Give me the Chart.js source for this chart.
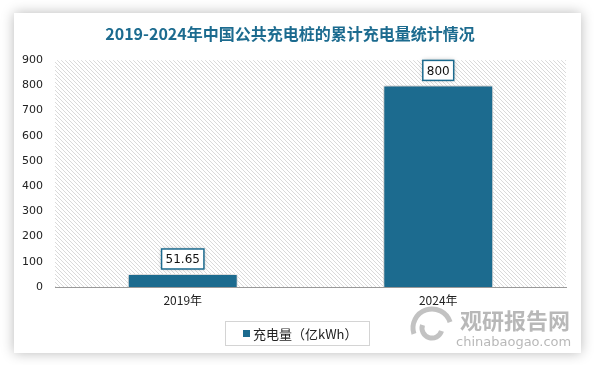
<!DOCTYPE html>
<html>
<head>
<meta charset="utf-8">
<script src="https://cdn.jsdelivr.net/npm/chart.js@4.4.0/dist/chart.umd.min.js"></script>
<style>
  html, body { margin: 0; padding: 0; background: #fff; }
  #card {
    position: absolute; left: 14px; top: 13px; width: 567px; height: 340px;
    background: #fff; box-shadow: 0 0 12px rgba(0,0,0,0.28);
  }
  #card canvas { display: block; }
</style>
</head>
<body>
<div id="card"><canvas id="chart" width="567" height="340"></canvas></div>
<script>
// chart data
const years = ['2019年', '2024年'];
const chargeVolume = [51.65, 800];
const seriesName = '充电量（亿kWh）';
const chartTitle = '2019-2024年中国公共充电桩的累计充电量统计情况';
const yTicks = [0, 100, 200, 300, 400, 500, 600, 700, 800, 900];

const mainColor = '#1c6b8f';
const darkText = '#222';

// diagonal hatch for the plot background
function makeHatch() {
  let c = document.createElement('canvas');
  c.width = 4; c.height = 4;
  let g = c.getContext('2d');
  g.fillStyle = '#fff';
  g.fillRect(0, 0, 4, 4);
  g.fillStyle = '#dadada';
  for (let i = 0; i < 4; i++) g.fillRect(i, i, 1, 1);
  return g.createPattern(c, 'repeat');
}

const backdrop = {
  id: 'backdrop',
  beforeDraw(chart) {
    const a = chart.chartArea;
    const ctx = chart.ctx;
    ctx.save();
    ctx.fillStyle = makeHatch();
    ctx.fillRect(a.left, a.top, a.right - a.left, a.bottom - a.top);
    ctx.restore();
  },
  beforeDatasetsDraw(chart) {
    const ctx = chart.ctx;
    ctx.save();
    ctx.shadowColor = 'rgba(0,0,0,0.35)';
    ctx.shadowBlur = 6;
  },
  afterDatasetsDraw(chart) {
    chart.ctx.restore();
  }
};

// boxed value labels over the bars
const valueBoxes = {
  id: 'valueBoxes',
  afterDatasetsDraw(chart) {
    const ctx = chart.ctx;
    const meta = chart.getDatasetMeta(0);
    ctx.save();
    ctx.font = '12px "DejaVu Sans"';
    ctx.textAlign = 'center';
    ctx.textBaseline = 'middle';
    meta.data.forEach((bar, i) => {
      const txt = String(chart.data.datasets[0].data[i]);
      const w = ctx.measureText(txt).width + 8;
      const h = 20;
      const x = bar.x - w / 2;
      const y = bar.y - 5 - h;
      ctx.shadowColor = 'rgba(0,0,0,0.3)';
      ctx.shadowBlur = 5;
      ctx.fillStyle = '#fff';
      ctx.fillRect(x, y, w, h);
      ctx.shadowColor = 'transparent';
      ctx.strokeStyle = mainColor;
      ctx.lineWidth = 1.5;
      ctx.strokeRect(x, y, w, h);
      ctx.fillStyle = '#111';
      ctx.fillText(txt, bar.x, y + h / 2 + 1);
    });
    ctx.restore();
  }
};

// legend box and watermark
const extras = {
  id: 'extras',
  afterDraw(chart) {
    const ctx = chart.ctx;
    ctx.save();
    // legend
    ctx.strokeStyle = '#d4d4d4';
    ctx.lineWidth = 1;
    ctx.strokeRect(211.5, 308.5, 144, 24);
    ctx.fillStyle = mainColor;
    ctx.fillRect(229, 317, 7, 7);
    ctx.fillStyle = darkText;
    ctx.font = '13px "Noto Sans CJK SC"';
    ctx.textBaseline = 'middle';
    ctx.fillText(seriesName, 239, 321);

    // watermark
    ctx.globalAlpha = 0.6;
    ctx.fillStyle = '#888';
    ctx.font = 'bold 22px "Noto Sans CJK SC"';
    ctx.textBaseline = 'middle';
    ctx.fillText('观研报告网', 446, 308);
    ctx.font = '13px "DejaVu Sans"';
    ctx.fillText('chinabaogao.com', 442, 330);
    ctx.strokeStyle = '#999';
    ctx.lineWidth = 5;
    ctx.beginPath();
    ctx.arc(418, 315, 19, Math.PI * 0.9, Math.PI * 1.9);
    ctx.stroke();
    ctx.beginPath();
    ctx.arc(418, 315, 10, Math.PI * 0.1, Math.PI * 1.1);
    ctx.stroke();
    ctx.restore();
  }
};

new Chart(document.getElementById('chart'), {
  type: 'bar',
  data: {
    labels: years,
    datasets: [{
      label: seriesName,
      data: chargeVolume,
      backgroundColor: mainColor,
      borderColor: '#fff',
      borderWidth: 1,
      categoryPercentage: 1,
      barPercentage: 0.43
    }]
  },
  options: {
    responsive: false,
    animation: false,
    layout: { padding: { left: 0, right: 15, top: 0, bottom: 42 } },
    plugins: {
      legend: { display: false },
      tooltip: { enabled: false },
      title: {
        display: true,
        text: chartTitle,
        color: '#1c6b8f',
        font: { family: '"Noto Sans CJK SC"', size: 16, weight: 'bold' },
        padding: { top: 11, bottom: 17 }
      }
    },
    scales: {
      x: {
        grid: { display: false, drawTicks: false },
        border: { display: true, color: '#999', width: 1 },
        ticks: { color: darkText, font: { family: '"Noto Sans CJK SC"', size: 12 }, padding: 6 },
        afterFit(s) { s.height = 24; }
      },
      y: {
        min: 0, max: 900,
        afterBuildTicks(s) { s.ticks = yTicks.map(v => ({ value: v })); },
        grid: { display: false, drawTicks: false },
        border: { display: false },
        ticks: { color: darkText, font: { family: '"DejaVu Sans"', size: 11 }, padding: 12 },
        afterFit(s) { s.width = 41; }
      }
    }
  },
  plugins: [backdrop, valueBoxes, extras]
});
</script>
</body>
</html>
